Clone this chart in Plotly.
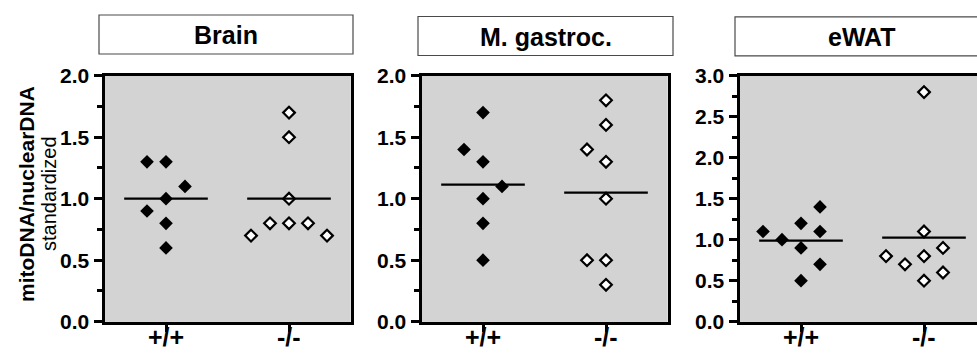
import plotly.graph_objects as go

# ---- data -------------------------------------------------------------
genotypes = ["+/+", "-/-"]
tissues = ["Brain", "M. gastroc.", "eWAT"]

brain_wt = [1.0, 0.8, 0.6, 1.3, 1.3, 1.1, 0.9]
brain_ko = [1.7, 1.5, 1.0, 0.8, 0.8, 0.8, 0.7, 0.7]
gastroc_wt = [1.7, 1.3, 1.4, 1.0, 1.1, 0.8, 0.5]
gastroc_ko = [1.8, 1.6, 1.3, 1.4, 1.0, 0.5, 0.5, 0.3]
ewat_wt = [1.2, 0.9, 0.5, 1.0, 1.4, 1.1, 1.1, 0.7]
ewat_ko = [2.8, 1.1, 0.8, 0.5, 0.7, 0.9, 0.6, 0.8]

y_top = [2.0, 2.0, 3.0]
y_title_bold = "mitoDNA/nuclearDNA"
y_title_plain = "standardized"

# ---- geometry (pixels) ------------------------------------------------
W, H = 977, 353
PLOT_X = [(104.5, 350.5), (421.5, 667.5), (739.5, 985.5)]
PLOT_Y = (75.7, 321.7)
BOX_X = [(99, 353), (418, 673), (735, 988)]
BOX_Y = [(15, 54), (16.5, 55.5), (16.8, 55.8)]
X_RANGE = (-0.5, 1.5)

FONT = "Liberation Sans, Arial, Helvetica, sans-serif"
GREY = "#d3d3d3"


def fx(px):
    return px / W


def fy(py):
    return 1 - py / H


def spread(values, px_per_unit, lane_px=19.0, min_gap=17.0, reach=40.0):
    """Column-scatter lanes: each point goes to the centre lane unless a
    neighbour in that lane is too close vertically; then it moves out to the
    side with more free room."""
    placed, lanes = [], []
    for v in values:
        y = v * px_per_unit

        def free(lane):
            return all(not (pl == lane and abs(py - y) < min_gap) for pl, py in placed)

        def room(lane):
            return min([reach] + [abs(py - y) for pl, py in placed if pl == lane])

        if free(0):
            lane = 0
        else:
            k = 1
            while True:
                lf, rf = free(-k), free(k)
                if lf and rf:
                    lane = k if room(k) > room(-k) + 1e-9 else -k
                    break
                if lf:
                    lane = -k
                    break
                if rf:
                    lane = k
                    break
                k += 1
        placed.append((lane, y))
        lanes.append(lane)
    return [lane * lane_px for lane in lanes]


fig = go.Figure()

panels = [(brain_wt, brain_ko), (gastroc_wt, gastroc_ko), (ewat_wt, ewat_ko)]
x_px_per_unit = (PLOT_X[0][1] - PLOT_X[0][0]) / (X_RANGE[1] - X_RANGE[0])
y_len = PLOT_Y[1] - PLOT_Y[0]

for i, (wt, ko) in enumerate(panels):
    n = "" if i == 0 else str(i + 1)
    xref, yref = "x" + n, "y" + n
    y_px_per_unit = y_len / y_top[i]

    for g, vals in enumerate([wt, ko]):
        offs = spread(vals, y_px_per_unit)
        xs = [g + o / x_px_per_unit for o in offs]
        if g == 0:
            marker = dict(symbol="diamond", size=10.5, color="black",
                          line=dict(width=0))
        else:
            marker = dict(symbol="diamond", size=9, color="white",
                          line=dict(width=2.2, color="black"))
        fig.add_trace(go.Scatter(x=xs, y=vals, mode="markers", marker=marker,
                                 xaxis=xref, yaxis=yref, showlegend=False,
                                 hoverinfo="y"))
        mean = sum(vals) / len(vals)
        fig.add_trace(go.Scatter(x=[g - 0.34, g + 0.34], y=[mean, mean],
                                 mode="lines", line=dict(color="black", width=2.2),
                                 xaxis=xref, yaxis=yref, showlegend=False,
                                 hoverinfo="skip"))

        # genotype label under its tick
        fig.add_annotation(x=g, y=fy(353), xref=xref, yref="paper",
                           text=genotypes[g], showarrow=False,
                           xanchor="center", yanchor="bottom",
                           font=dict(family=FONT, size=25, color="black",
                                     weight="bold"))

    x0, x1 = PLOT_X[i]
    xr = list(X_RANGE)
    if x1 > W:
        xr[1] = X_RANGE[0] + (W - x0) / x_px_per_unit
        x1 = W
    axis_x = dict(domain=[fx(x0), fx(x1)], range=xr, anchor=yref,
                  tickmode="array", tickvals=[0, 1], showticklabels=False,
                  ticks="outside", ticklen=7, tickwidth=3, tickcolor="black",
                  automargin=False,
                  showline=True, linewidth=3, linecolor="black", mirror=True,
                  showgrid=False, zeroline=False, fixedrange=True)
    axis_y = dict(domain=[fy(PLOT_Y[1]), fy(PLOT_Y[0])], range=[0, y_top[i]],
                  anchor=xref, tick0=0, dtick=0.5, tickformat=".1f",
                  ticks="outside", ticklen=8, tickwidth=2.5, tickcolor="black",
                  ticklabelstandoff=0, automargin=False,
                  minor=dict(dtick=0.25, ticks="outside", ticklen=5,
                             tickwidth=2.5, tickcolor="black", showgrid=False),
                  showline=True, linewidth=3, linecolor="black", mirror=True,
                  showgrid=False, zeroline=False, fixedrange=True,
                  tickfont=dict(family=FONT, size=21, color="black", weight="bold"))
    fig.update_layout(**{"xaxis" + n: axis_x, "yaxis" + n: axis_y})

    # grey plotting area
    fig.add_shape(type="rect", xref=xref + " domain", yref=yref + " domain",
                  x0=0, x1=1, y0=0, y1=1, fillcolor=GREY, line_width=0,
                  layer="below")

    # tissue header box
    bx0, bx1 = BOX_X[i]
    by0, by1 = BOX_Y[i]
    fig.add_shape(type="rect", xref="paper", yref="paper",
                  x0=fx(bx0), x1=fx(bx1), y0=fy(by1), y1=fy(by0),
                  fillcolor="white", line=dict(color="#4a4a4a", width=1.2))
    fig.add_annotation(x=fx((bx0 + bx1) / 2), y=fy((by0 + by1) / 2 + 1),
                       xref="paper", yref="paper", text=tissues[i],
                       showarrow=False, xanchor="center", yanchor="middle",
                       font=dict(family=FONT, size=25, color="black", weight="bold"))

# y-axis title in two lines
fig.add_annotation(x=fx(26), y=fy(194), xref="paper", yref="paper",
                   text=y_title_bold, textangle=-90, showarrow=False,
                   xanchor="center", yanchor="middle",
                   font=dict(family=FONT, size=21, color="black", weight="bold"))
fig.add_annotation(x=fx(49), y=fy(194), xref="paper", yref="paper",
                   text=y_title_plain, textangle=-90, showarrow=False,
                   xanchor="center", yanchor="middle",
                   font=dict(family=FONT, size=20, color="black"))

fig.update_layout(width=W, height=H, autosize=False,
                  margin=dict(l=0, r=0, t=0, b=0, autoexpand=False),
                  paper_bgcolor="white", plot_bgcolor=GREY)

fig.write_html("out.html")
